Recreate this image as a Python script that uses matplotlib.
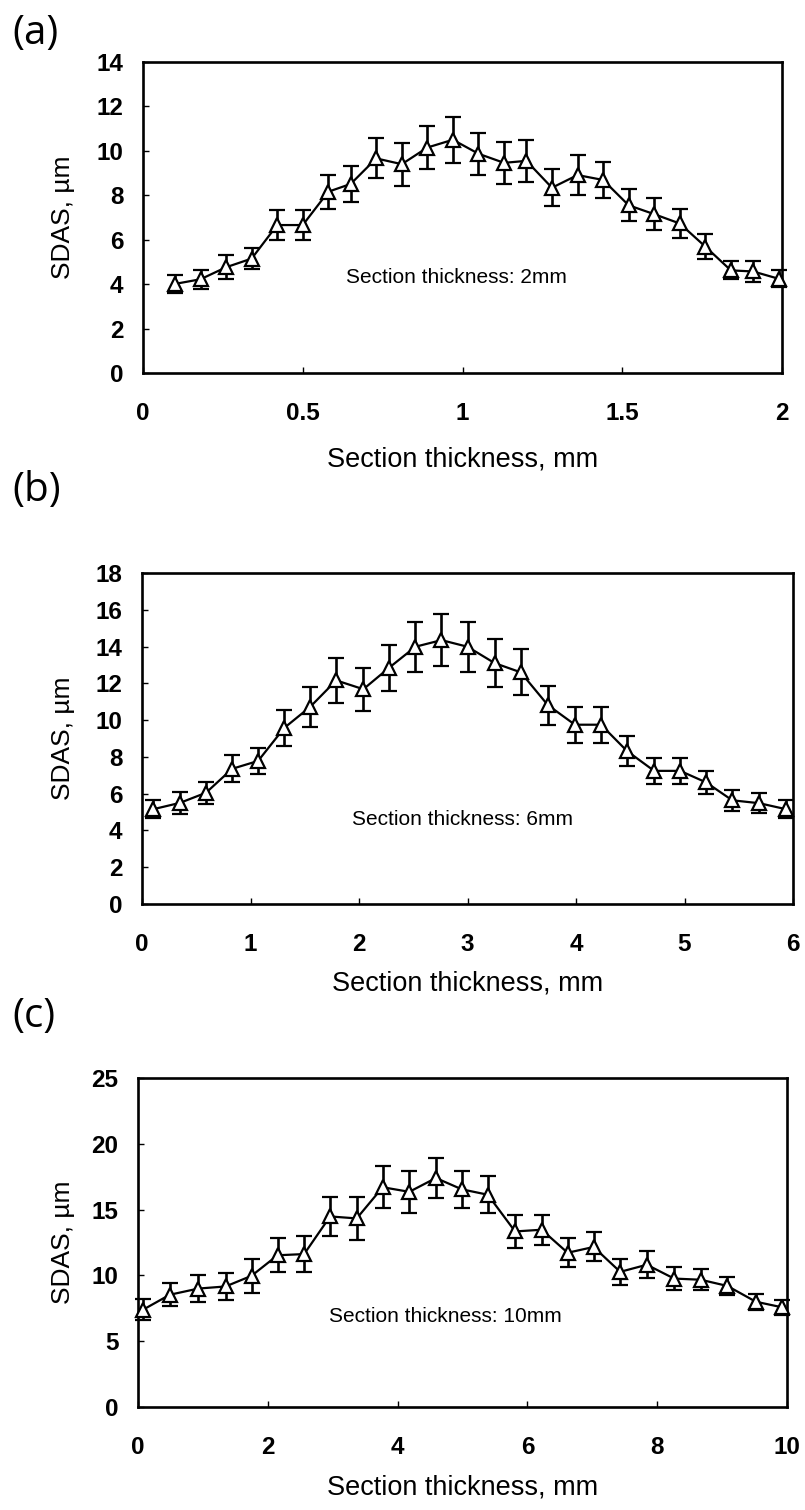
import matplotlib
matplotlib.use("Agg")
import matplotlib.pyplot as plt

plt.rcParams['font.family'] = ['Liberation Sans', 'DejaVu Sans']

# ---------------- data ----------------
x_a = [0.10, 0.18, 0.26, 0.34, 0.42, 0.50, 0.58, 0.65, 0.73, 0.81, 0.89, 0.97, 1.05,
       1.13, 1.20, 1.28, 1.36, 1.44, 1.52, 1.60, 1.68, 1.76, 1.84, 1.91, 1.99]
y_a = [4.01, 4.22, 4.76, 5.15, 6.66, 6.66, 8.16, 8.51, 9.66, 9.40, 10.15, 10.50, 9.87,
       9.46, 9.55, 8.34, 8.91, 8.69, 7.55, 7.15, 6.73, 5.69, 4.62, 4.57, 4.24]
e_a = [0.40, 0.43, 0.54, 0.49, 0.66, 0.66, 0.77, 0.82, 0.90, 0.97, 0.97, 1.04, 0.95,
       0.96, 0.94, 0.84, 0.90, 0.83, 0.73, 0.73, 0.66, 0.58, 0.41, 0.46, 0.39]

x_b = [0.10, 0.35, 0.59, 0.83, 1.07, 1.31, 1.55, 1.79, 2.04, 2.28, 2.52, 2.76, 3.00,
       3.25, 3.49, 3.74, 3.99, 4.23, 4.47, 4.72, 4.96, 5.20, 5.44, 5.69, 5.94]
y_b = [5.15, 5.50, 6.05, 7.35, 7.78, 9.57, 10.72, 12.16, 11.68, 12.86, 13.99, 14.35, 13.99,
       13.10, 12.60, 10.82, 9.75, 9.75, 8.32, 7.24, 7.24, 6.61, 5.64, 5.48, 5.15]
e_b = [0.50, 0.61, 0.59, 0.74, 0.72, 0.98, 1.07, 1.22, 1.16, 1.25, 1.37, 1.43, 1.37,
       1.31, 1.26, 1.06, 0.98, 0.98, 0.81, 0.72, 0.72, 0.63, 0.57, 0.53, 0.50]

x_c = [0.08, 0.49, 0.93, 1.35, 1.75, 2.15, 2.56, 2.96, 3.37, 3.77, 4.18, 4.59, 4.99,
       5.39, 5.81, 6.22, 6.62, 7.02, 7.43, 7.84, 8.26, 8.67, 9.08, 9.52, 9.92]
y_c = [7.40, 8.53, 9.00, 9.16, 9.97, 11.53, 11.62, 14.48, 14.33, 16.70, 16.35, 17.40, 16.54,
       16.13, 13.34, 13.47, 11.72, 12.16, 10.27, 10.81, 9.76, 9.67, 9.20, 8.00, 7.58]
e_c = [0.78, 0.89, 1.05, 1.01, 1.27, 1.30, 1.39, 1.47, 1.62, 1.58, 1.62, 1.54, 1.43,
       1.39, 1.22, 1.14, 1.11, 1.10, 0.97, 1.01, 0.85, 0.81, 0.67, 0.61, 0.57]

xticks_a = [0, 0.5, 1, 1.5, 2]
xticklabels_a = ['0', '0.5', '1', '1.5', '2']
yticks_a = [0, 2, 4, 6, 8, 10, 12, 14]
xticks_b = [0, 1, 2, 3, 4, 5, 6]
yticks_b = [0, 2, 4, 6, 8, 10, 12, 14, 16, 18]
xticks_c = [0, 2, 4, 6, 8, 10]
yticks_c = [0, 5, 10, 15, 20, 25]

panel_letters = ['(a)', '(b)', '(c)']
annotations = ['Section thickness: 2mm', 'Section thickness: 6mm', 'Section thickness: 10mm']
ann_pos = [(0.98, 4.3), (2.95, 4.6), (4.73, 6.9)]
xlabel = 'Section thickness, mm'
ylabel = 'SDAS, \u00b5m'

# ---------------- layout ----------------
W, H = 805, 1510
fig = plt.figure(figsize=(W / 100, H / 100), dpi=100)

def box(l, r, t, b):
    return [l / W, 1 - b / H, (r - l) / W, (b - t) / H]

rects = [box(143, 782, 62, 373), box(142, 793, 573, 904), box(138, 787, 1078, 1407)]
letter_y = [34, 491, 1017]
xlabel_off = [86, 79, 80]

panels = [
    (x_a, y_a, e_a, xticks_a, xticklabels_a, yticks_a, (0, 2), (0, 14)),
    (x_b, y_b, e_b, xticks_b, [str(v) for v in xticks_b], yticks_b, (0, 6), (0, 18)),
    (x_c, y_c, e_c, xticks_c, [str(v) for v in xticks_c], yticks_c, (0, 10), (0, 25)),
]

for i, (xs, ys, es, xt, xtl, yt, xl, yl) in enumerate(panels):
    ax = fig.add_axes(rects[i])
    ax.errorbar(xs, ys, yerr=es, color='black', lw=1.6, elinewidth=1.9,
                capsize=5.5, capthick=1.9, marker='^', ms=10, mfc='white',
                mec='black', mew=1.6, clip_on=False, zorder=3)
    ax.set_xlim(*xl)
    ax.set_ylim(*yl)
    ax.set_xticks(xt)
    ax.set_xticklabels(xtl)
    ax.set_yticks(yt)
    ax.set_yticklabels([str(v) for v in yt])
    for s in ax.spines.values():
        s.set_linewidth(1.9)
    ax.tick_params(direction='in', length=4, width=1.0, top=False, right=False,
                   labelsize=17.5, pad=14)
    ax.tick_params(axis='x', pad=21)
    for lab in ax.get_xticklabels() + ax.get_yticklabels():
        lab.set_fontweight('bold')
    h = rects[i][3] * H
    ax.set_xlabel(xlabel, fontsize=19.5)
    ax.xaxis.set_label_coords(0.5, -xlabel_off[i] / h)
    ax.xaxis.label.set_va('center')
    ax.set_ylabel(ylabel, fontsize=19)
    ax.yaxis.set_label_coords((63 - rects[i][0] * W) / (rects[i][2] * W), 0.5)
    ax.yaxis.label.set_va('center')
    ax.text(ann_pos[i][0], ann_pos[i][1], annotations[i], fontsize=15,
            ha='center', va='center')
    fig.text(12 / W, 1 - letter_y[i] / H, panel_letters[i],
             family=['Open Sans', 'DejaVu Sans'], fontsize=29,
             ha='left', va='center')

fig.savefig('out.png', dpi=100)
